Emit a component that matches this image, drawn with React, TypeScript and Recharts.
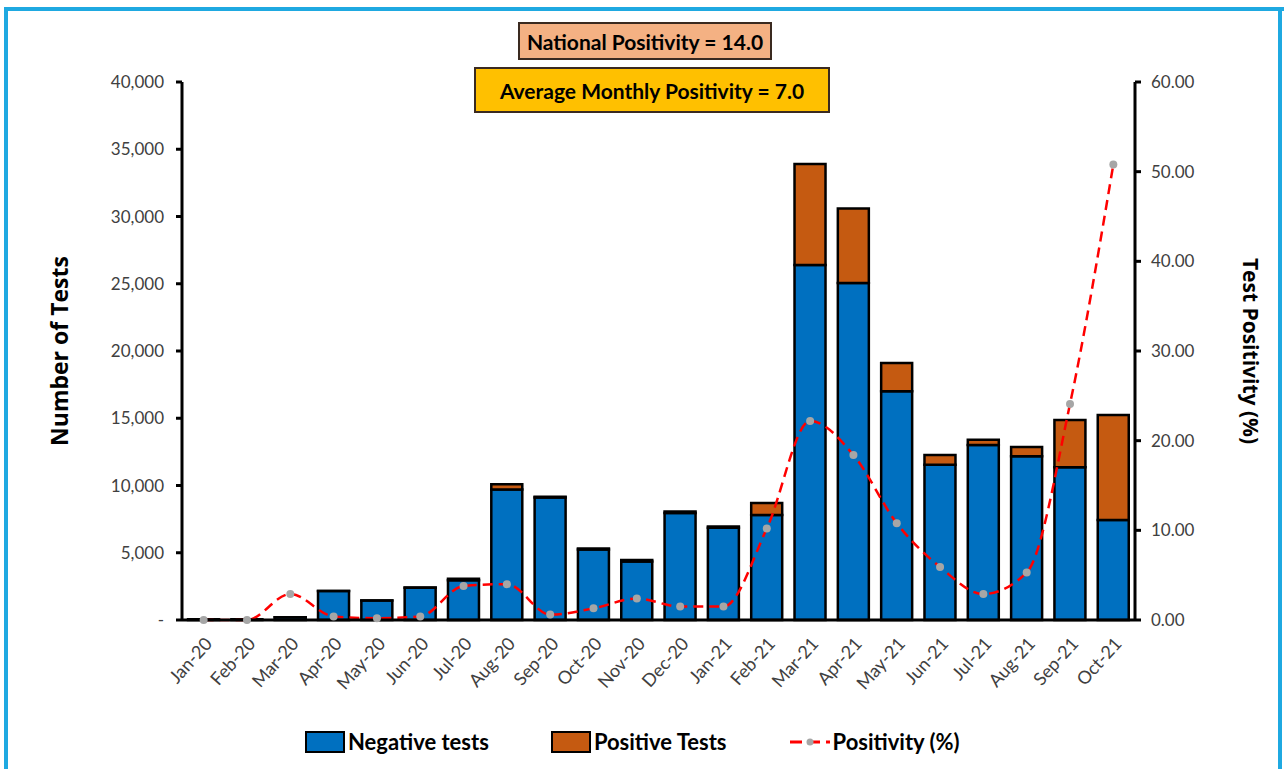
import { ComposedChart, Bar, Line, XAxis, YAxis } from "recharts";

const months = [
  "Jan-20", "Feb-20", "Mar-20", "Apr-20", "May-20", "Jun-20", "Jul-20", "Aug-20", "Sep-20", "Oct-20", "Nov-20",
  "Dec-20", "Jan-21", "Feb-21", "Mar-21", "Apr-21", "May-21", "Jun-21", "Jul-21", "Aug-21", "Sep-21", "Oct-21",
];
const negativeTests = [
  60, 60, 200, 2150, 1450, 2400, 2950, 9700, 9100, 5250, 4350, 7950, 6850, 7810, 26400, 25050, 17000, 11550,
  13010, 12180, 11350, 7440,
];
const positiveTests = [
  0, 0, 6, 10, 3, 10, 115, 400, 55, 70, 105, 120, 105, 890, 7500, 5550, 2100, 720, 390, 680, 3520, 7800,
];
const positivity = [
  0.0, 0.0, 2.9, 0.4, 0.2, 0.4, 3.8, 4.0, 0.6, 1.3, 2.4, 1.5, 1.5, 10.2, 22.2, 18.4, 10.8, 5.9, 2.9, 5.3, 24.1, 50.8,
];
const leftTicks = [0, 5000, 10000, 15000, 20000, 25000, 30000, 35000, 40000];
const rightTicks = [0, 10, 20, 30, 40, 50, 60];

const data = months.map((m, i) => ({
  month: m,
  negative: negativeTests[i],
  positive: positiveTests[i],
  rate: positivity[i],
}));

const tickFont = "Lato, 'Open Sans', sans-serif";
const boldFont = "Lato, 'Open Sans', sans-serif";

function LegendRow() {
  const item = { display: "flex", alignItems: "center", fontFamily: boldFont, fontWeight: 700, fontSize: 22, color: "#000" };
  const box = (c: string) => ({ width: 40, height: 22, background: c, border: "2px solid #000", boxSizing: "border-box" as const, marginRight: 3 });
  return (
    <div style={{ position: "absolute", left: 305, top: 728, display: "flex", gap: 62 }}>
      <div style={item}><div style={box("#0070c0")} />Negative tests</div>
      <div style={item}><div style={box("#c55a11")} />Positive Tests</div>
      <div style={item}>
        <svg width={42} height={22} style={{ marginRight: 2 }}>
          <line x1={1} y1={11} x2={41} y2={11} stroke="#ff0000" strokeWidth={3} strokeDasharray="12 6" />
          <circle cx={21} cy={11} r={3.5} fill="#a6a6a6" />
        </svg>
        Positivity (%)
      </div>
    </div>
  );
}

const boxStyle = {
  position: "absolute" as const,
  boxSizing: "border-box" as const,
  border: "2px solid #3a2a20",
  display: "flex",
  alignItems: "center",
  justifyContent: "center",
  whiteSpace: "nowrap" as const,
  fontFamily: boldFont,
  fontWeight: 700,
  fontSize: 21,
  color: "#000",
};

export default function App() {
  return (
    <div style={{ position: "fixed", left: 0, top: 0, width: 1284, height: 769, background: "#fff", overflow: "hidden" }}>
      <ComposedChart
        width={1284}
        height={769}
        data={data}
        margin={{ top: 82, right: 20, left: 20, bottom: 89 }}
        barCategoryGap="14%"
      >
        <XAxis
          dataKey="month"
          height={60}
          interval={0}
          tickLine={false}
          axisLine={{ stroke: "#000", strokeWidth: 3 }}
          tick={{ fill: "#404040", fontSize: 18, fontFamily: tickFont, angle: -48, textAnchor: "end", dy: 8 } as any}
        />
        <YAxis
          yAxisId="left"
          width={162}
          domain={[0, 40000]}
          ticks={leftTicks}
          tickSize={6}
          tickLine={{ stroke: "#000", strokeWidth: 3 }}
          axisLine={{ stroke: "#000", strokeWidth: 3 }}
          tickMargin={12}
          tick={{ fill: "#404040", fontSize: 17, fontFamily: tickFont }}
          tickFormatter={(v: number) => (v === 0 ? "-" : v.toLocaleString("en-US"))}
          label={{ value: "Number of Tests", angle: -90, position: "insideLeft", offset: 40, style: { fontFamily: "'Open Sans', sans-serif", fontWeight: 700, fontSize: 23, fill: "#000", textAnchor: "middle" } }}
        />
        <YAxis
          yAxisId="right"
          orientation="right"
          width={129}
          domain={[0, 60]}
          ticks={rightTicks}
          tickSize={6}
          tickLine={{ stroke: "#000", strokeWidth: 3 }}
          axisLine={{ stroke: "#000", strokeWidth: 3 }}
          tickMargin={10}
          tick={{ fill: "#404040", fontSize: 17, fontFamily: tickFont }}
          tickFormatter={(v: number) => v.toFixed(2)}
          label={{ value: "Test Positivity (%)", angle: 90, position: "insideRight", offset: 14, style: { fontFamily: "'Open Sans', sans-serif", fontWeight: 700, fontSize: 21, fill: "#000", textAnchor: "middle" } }}
        />
        <Bar yAxisId="left" dataKey="negative" name="Negative tests" stackId="a" fill="#0070c0" stroke="#000" strokeWidth={2.5} isAnimationActive={false} />
        <Bar yAxisId="left" dataKey="positive" name="Positive Tests" stackId="a" fill="#c55a11" stroke="#000" strokeWidth={2.5} isAnimationActive={false} />
        <Line
          yAxisId="right"
          type="monotone"
          dataKey="rate"
          name="Positivity (%)"
          stroke="#ff0000"
          strokeWidth={2.5}
          strokeDasharray="10 6"
          dot={{ r: 4, fill: "#a6a6a6", stroke: "none" }}
          isAnimationActive={false}
        />
      </ComposedChart>
      <LegendRow />
      <div style={{ ...boxStyle, left: 518, top: 22, width: 254, height: 38, background: "#f4b183" }}>
        National Positivity = 14.0
      </div>
      <div style={{ ...boxStyle, left: 474, top: 67, width: 356, height: 46, background: "#ffc000" }}>
        Average Monthly Positivity = 7.0
      </div>
      <div style={{ position: "absolute", left: 4, top: 7, width: 1280, height: 4, background: "#1fa9e1" }} />
      <div style={{ position: "absolute", left: 4, top: 7, width: 4, height: 770, background: "#1fa9e1" }} />
      <div style={{ position: "absolute", left: 1278, top: 7, width: 4, height: 770, background: "#1fa9e1" }} />
    </div>
  );
}
